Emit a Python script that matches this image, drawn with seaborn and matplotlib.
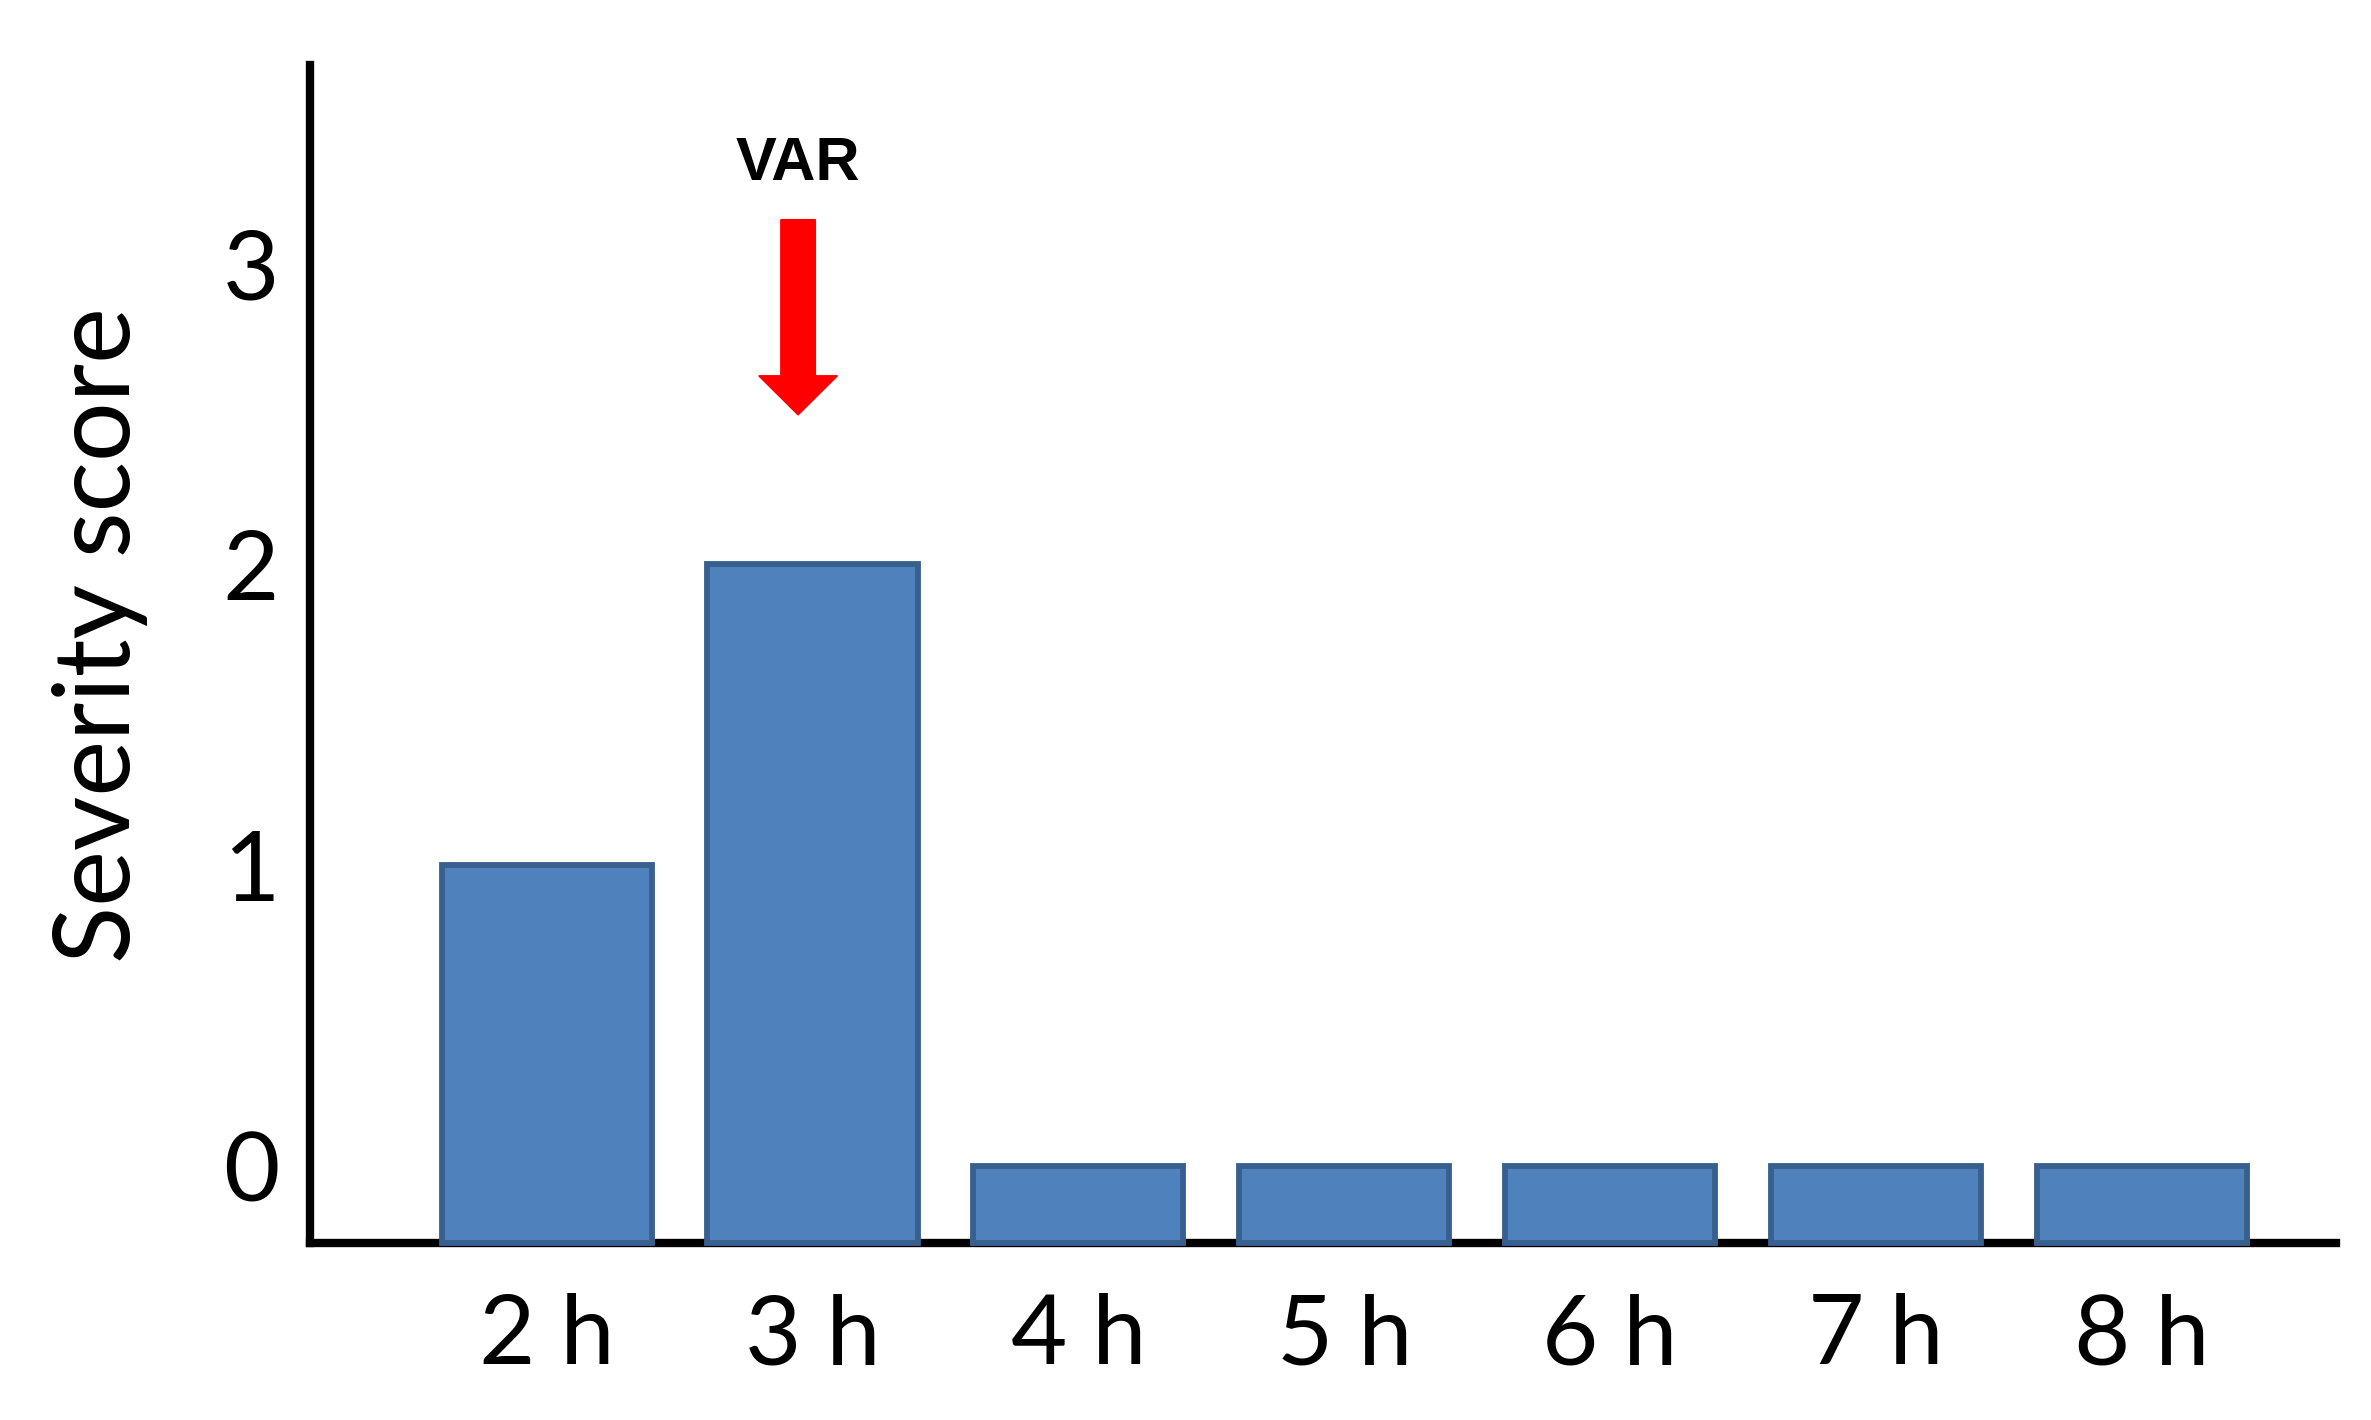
import pandas as pd
import seaborn as sns
import matplotlib.pyplot as plt

# values
hours = ["2 h", "3 h", "4 h", "5 h", "6 h", "7 h", "8 h"]
severity = [1, 2, 0, 0, 0, 0, 0]
y_ticks = [0, 1, 2, 3]

df = pd.DataFrame({"hour": hours, "severity": severity})

sns.set_theme(style="white")
plt.rcParams["font.family"] = ["Lato", "DejaVu Sans"]
plt.rcParams["text.color"] = "black"
plt.rcParams["axes.labelcolor"] = "black"
plt.rcParams["xtick.color"] = "black"
plt.rcParams["ytick.color"] = "black"

fig = plt.figure(figsize=(23.71, 14.2), dpi=100)
ax = fig.add_axes([0.1307, 0.1246, 0.8546, 0.8296])

sns.barplot(data=df, x="hour", y="severity", color="#4f81bd", saturation=1,
            width=0.79, edgecolor="#38608f", linewidth=4.2, zorder=3, ax=ax)

# bars in the original start at the drawn axis line, a bit below zero
y_floor = -0.256
for bar in ax.patches:
    top = bar.get_y() + bar.get_height()
    bar.set_y(y_floor)
    bar.set_height(top - y_floor)
    bar.set_clip_on(False)

ax.set_xlim(-0.89, 6.73)
ax.set_ylim(y_floor, 3.66)
ax.set_yticks(y_ticks)
ax.set_yticklabels([str(t) for t in y_ticks])

sns.despine(ax=ax)
for side in ["left", "bottom"]:
    ax.spines[side].set_linewidth(6)
    ax.spines[side].set_color("black")
    ax.spines[side].set_zorder(1)

ax.tick_params(axis="y", length=0, pad=22, labelsize=70)
ax.tick_params(axis="x", length=0, pad=36, labelsize=70)
ax.set_xlabel("")
ax.set_ylabel("Severity score", fontsize=76)
ax.yaxis.set_label_coords(-0.08, 0.516)

# VAR marker above the 3 h bar
ax.arrow(0.946, 3.146, 0, 2.497 - 3.146, width=0.13, head_width=0.296,
         head_length=0.13, length_includes_head=True, color="#ff0000", zorder=4)
ax.text(0.946, 3.33, "VAR", ha="center", va="center", fontsize=44,
        fontweight="bold", family=["Liberation Sans", "DejaVu Sans"])

plt.savefig("out.png", dpi=100)
